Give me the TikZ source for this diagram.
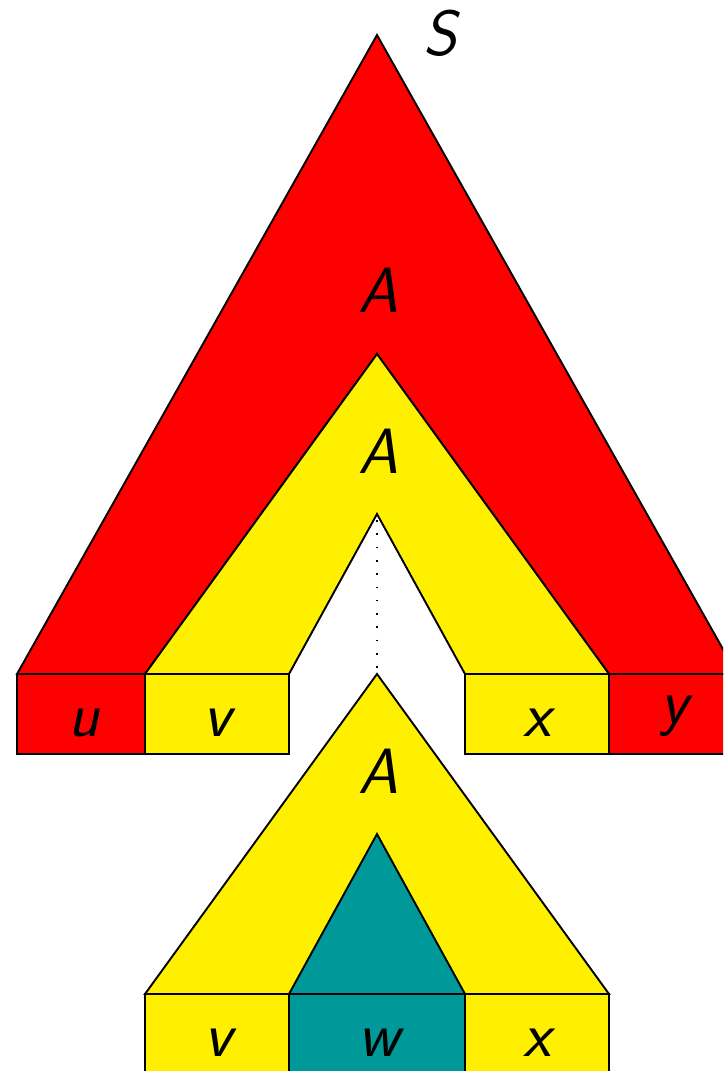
\documentclass[tikz,border=0pt]{standalone}
\usepackage{fontspec}
\definecolor{rred}{RGB}{255,0,0}
\definecolor{yyel}{RGB}{255,240,0}
\definecolor{tteal}{RGB}{0,153,153}
\tikzset{
  part/.style={draw=black, line width=1.9pt, line join=miter},
  lab/.style={font=\fontsize{64}{64}\selectfont\sffamily\itshape, inner sep=0pt, anchor=base},
}
\begin{document}
\begin{tikzpicture}[x=1pt,y=-1pt]
\useasboundingbox (0,0) rectangle (723,1071);
\clip (0,0) rectangle (723,1071);
% coordinates
\coordinate (S0) at (377,35);
\coordinate (A1) at (377,354);
\coordinate (A2) at (377,514);
\coordinate (A3) at (377,674);
\coordinate (A4) at (377,834);
% red band
\path[part, fill=rred] (S0) -- (17,674) -- (145,674) -- (A1) -- (609,674) -- (737,674) -- cycle;
% yellow band
\path[part, fill=yyel] (A1) -- (145,674) -- (289,674) -- (A2) -- (465,674) -- (609,674) -- cycle;
% top boxes
\path[part, fill=rred] (17,674) rectangle (145,754);
\path[part, fill=yyel] (145,674) rectangle (289,754);
\path[part, fill=yyel] (465,674) rectangle (609,754);
\path[part, fill=rred] (609,674) rectangle (737,754);
% dotted link
\draw[line width=1.6pt, dash pattern=on 1.6pt off 11.7pt, dash phase=-6pt] (A2) -- (A3);
% lower tree
\path[part, fill=yyel] (A3) -- (145,994) -- (609,994) -- cycle;
\path[part, fill=tteal] (A4) -- (289,994) -- (465,994) -- cycle;
\path[part, fill=yyel] (145,994) rectangle (289,1076);
\path[part, fill=tteal] (289,994) rectangle (465,1076);
\path[part, fill=yyel] (465,994) rectangle (609,1076);
% labels
\node[lab] (lS) at (440,55) {S};
\node[lab] (lA1) at (378,312) {A};
\node[lab] (lA2) at (378,473) {A};
\node[lab] (lA3) at (378,793) {A};
\node[lab] (lu) at (84,736) {u};
\node[lab] (lv1) at (217,736) {v};
\node[lab] (lx1) at (537,736) {x};
\node[lab] (ly) at (674,723) {y};
\node[lab] (lv2) at (218,1056) {v};
\node[lab] (lw) at (379,1056) {w};
\node[lab] (lx2) at (537,1056) {x};
\end{tikzpicture}
\end{document}
